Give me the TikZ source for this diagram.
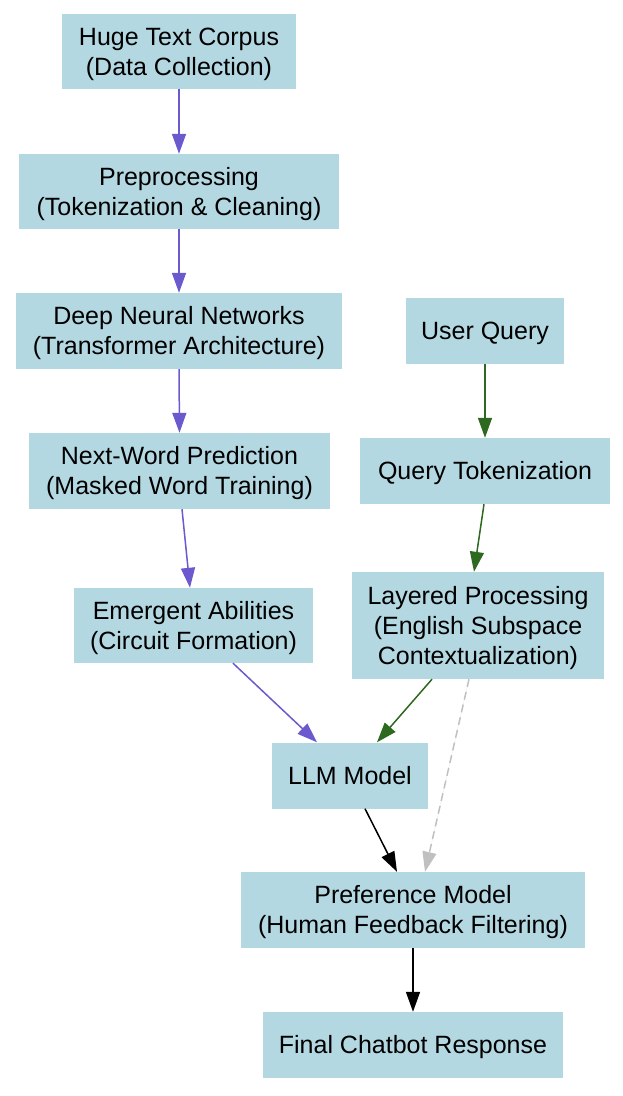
\documentclass[tikz,border=0pt]{standalone}
\usepackage{fontspec}
\setmainfont{Liberation Sans}
\usetikzlibrary{arrows.meta,calc}
\definecolor{boxfill}{RGB}{180,216,226}
\definecolor{purp}{RGB}{106,90,205}
\definecolor{dgreen}{RGB}{45,105,30}
\definecolor{lgray}{RGB}{192,192,192}
\newcommand\sv{\rule[-5.5pt]{0pt}{28.5pt}}
\tikzset{
  box/.style={rectangle, fill=boxfill, draw=none, inner sep=0pt, align=center,
    font=\fontsize{25}{30}\selectfont, text=black},
  tip/.style={-{Triangle[length=20pt,width=14pt]}},
  pedge/.style={tip, draw=purp, fill=purp, line width=1.5pt},
  gedge/.style={tip, draw=dgreen, fill=dgreen, line width=1.5pt},
  kedge/.style={tip, draw=black, fill=black, line width=1.5pt},
  dedge/.style={tip, draw=lgray, fill=lgray, line width=1.5pt, dash pattern=on 8pt off 5pt},
}
\begin{document}
\begin{tikzpicture}[x=1pt,y=-1pt]
\useasboundingbox (0,0) rectangle (622,1096);
\node[box, minimum width=234pt, minimum height=75pt] (huge) at (179,51.5) {\sv Huge Text Corpus\\\sv(Data Collection)};
\node[box, minimum width=320pt, minimum height=75pt] (pre) at (179,191.5) {\sv Preprocessing\\\sv(Tokenization \& Cleaning)};
\node[box, minimum width=326pt, minimum height=76pt] (dnn) at (179,331) {\sv Deep Neural Networks\\\sv(Transformer Architecture)};
\node[box, minimum width=301pt, minimum height=76pt] (nwp) at (179.5,471) {\sv Next-Word Prediction\\\sv(Masked Word Training)};
\node[box, minimum width=239pt, minimum height=75pt] (emer) at (193.5,625.5) {\sv Emergent Abilities\\\sv(Circuit Formation)};
\node[box, minimum width=158pt, minimum height=66pt] (uq) at (485,331) {\sv User Query};
\node[box, minimum width=250pt, minimum height=66pt] (qt) at (485,471) {\sv Query Tokenization};
\node[box, minimum width=252pt, minimum height=107pt] (lp) at (478,625.5) {\sv Layered Processing\\\sv(English Subspace\\\sv Contextualization)};
\node[box, minimum width=156pt, minimum height=66pt] (llm) at (350,775.5) {\sv LLM Model};
\node[box, minimum width=344pt, minimum height=76pt] (pref) at (413,910) {\sv Preference Model\\\sv(Human Feedback Filtering)};
\node[box, minimum width=300pt, minimum height=66pt] (fin) at (413,1045) {\sv Final Chatbot Response};

\draw[pedge] (huge.south) -- (pre.north);
\draw[pedge] (pre.south) -- (dnn.north);
\draw[pedge] (dnn.south) -- (nwp.north);
\draw[pedge] ([xshift=2.5pt]nwp.south) -- ([xshift=-3.5pt]emer.north);
\draw[pedge] ([xshift=39.5pt]emer.south) -- ([xshift=-33pt]llm.north);
\draw[gedge] (uq.south) -- (qt.north);
\draw[gedge] ([xshift=-1pt]qt.south) -- ([xshift=-4pt]lp.north);
\draw[gedge] ([xshift=-46pt]lp.south) -- ([xshift=27pt]llm.north);
\draw[dedge] ([xshift=-9pt]lp.south) -- ([xshift=12pt]pref.north);
\draw[kedge] ([xshift=15pt]llm.south) -- ([xshift=-16pt]pref.north);
\draw[kedge] (pref.south) -- (fin.north);
\end{tikzpicture}
\end{document}
